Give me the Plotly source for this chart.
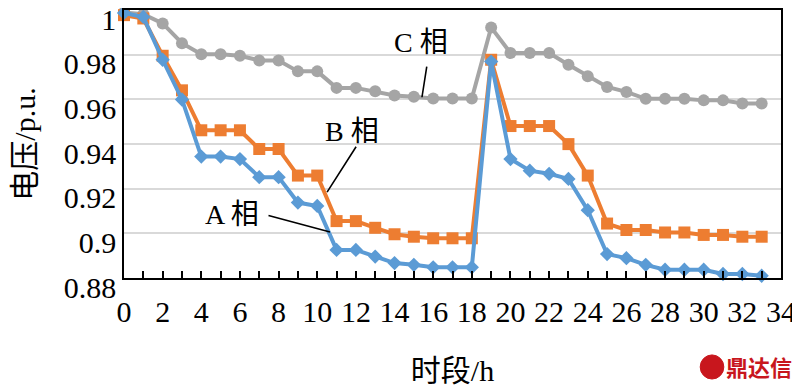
import plotly.graph_objects as go

hours = list(range(34))
phase_a = [0.9988, 0.9970, 0.9778, 0.9600, 0.9344, 0.9344, 0.9333, 0.9252, 0.9252, 0.9138,
           0.9123, 0.8926, 0.8926, 0.8896, 0.8867, 0.8859, 0.8848, 0.8848, 0.8848, 0.9770,
           0.9333, 0.9281, 0.9267, 0.9244, 0.9104, 0.8907, 0.8889, 0.8859, 0.8837, 0.8837,
           0.8837, 0.8818, 0.8818, 0.8810]
phase_b = [0.9978, 0.9963, 0.9796, 0.9641, 0.9462, 0.9462, 0.9462, 0.9378, 0.9378, 0.9259,
           0.9259, 0.9055, 0.9055, 0.9025, 0.8996, 0.8985, 0.8978, 0.8978, 0.8978, 0.9778,
           0.9481, 0.9481, 0.9481, 0.9400, 0.9259, 0.9044, 0.9015, 0.9015, 0.9004, 0.9004,
           0.8993, 0.8993, 0.8985, 0.8985]
phase_c = [0.9990, 0.9982, 0.9941, 0.9852, 0.9803, 0.9803, 0.9796, 0.9775, 0.9775, 0.9726,
           0.9726, 0.9652, 0.9652, 0.9637, 0.9618, 0.9612, 0.9604, 0.9604, 0.9604, 0.9923,
           0.9808, 0.9808, 0.9808, 0.9756, 0.9704, 0.9656, 0.9634, 0.9603, 0.9603, 0.9603,
           0.9596, 0.9596, 0.9582, 0.9582]

y_ticks = [0.88, 0.90, 0.92, 0.94, 0.96, 0.98, 1.00]
y_tick_text = ["0.88", "0.9", "0.92", "0.94", "0.96", "0.98", "1"]
x_ticks = list(range(0, 35, 2))

FONT = "Liberation Serif, Noto Sans CJK SC, serif"

fig = go.Figure()
fig.add_trace(go.Scatter(x=hours, y=phase_c, mode="lines+markers", name="C 相",
                         line=dict(color="#A5A5A5", width=4),
                         marker=dict(symbol="circle", size=12, color="#A5A5A5"),
                         cliponaxis=False))
fig.add_trace(go.Scatter(x=hours, y=phase_b, mode="lines+markers", name="B 相",
                         line=dict(color="#ED7D31", width=4),
                         marker=dict(symbol="square", size=12, color="#ED7D31"),
                         cliponaxis=False))
fig.add_trace(go.Scatter(x=hours, y=phase_a, mode="lines+markers", name="A 相",
                         line=dict(color="#5B9BD5", width=4),
                         marker=dict(symbol="diamond", size=11, color="#5B9BD5"),
                         cliponaxis=False))

# labels with leader lines (data coords)
labels = [
    ("C 相", 15.37, 0.9857, 15.68, 0.9754, 15.42, 0.9610),
    ("B 相", 11.80, 0.9458, 12.06, 0.9395, 10.51, 0.9185),
    ("A 相", 5.59, 0.9086, 7.40, 0.9082, 10.66, 0.9006),
]
for txt, tx, ty, x0, y0, x1, y1 in labels:
    fig.add_annotation(x=tx, y=ty, text=txt, showarrow=False,
                       font=dict(family=FONT, size=28, color="black"))
    fig.add_annotation(x=x1, y=y1, ax=x0, ay=y0, axref="x", ayref="y",
                       xref="x", yref="y", text="", showarrow=True,
                       arrowhead=0, arrowwidth=1.6, arrowcolor="black")

# watermark
fig.add_annotation(x=1.02, y=-0.33, xref="paper", yref="paper", xanchor="right",
                   yanchor="middle", text="<b>鼎达信</b>", showarrow=False,
                   font=dict(family="Noto Sans CJK SC", size=22, color="#C8161D"))
fig.add_shape(type="circle", xref="paper", yref="paper",
              x0=0.877, x1=0.913, y0=-0.377, y1=-0.287,
              fillcolor="#C8161D", line=dict(color="#C8161D", width=1))

# page body has an 8px default margin, so the figure is sized to fit the window
fig.update_layout(
    width=792, height=379,
    margin=dict(l=116, r=19, t=2, b=109, autoexpand=False),
    paper_bgcolor="white", plot_bgcolor="white",
    showlegend=False,
    font=dict(family=FONT, size=30, color="black"),
)
fig.update_xaxes(
    range=[0, 34], tickvals=x_ticks, ticktext=[str(v) for v in x_ticks],
    showgrid=False, zeroline=False, automargin=False, ticklabeloverflow="allow",
    ticklabelstandoff=6,
    showline=True, linecolor="black", linewidth=1.5, mirror=True,
    ticks="inside", ticklen=7, tickcolor="black", tickwidth=1.5,
    minor=dict(dtick=1, ticks="inside", ticklen=7, tickcolor="black", tickwidth=1.5, showgrid=False),
    tickfont=dict(family=FONT, size=30),
    title=dict(text="时段/h", font=dict(family=FONT, size=30), standoff=34),
)
fig.update_yaxes(
    range=[0.88, 1.0001], tickvals=y_ticks, ticktext=y_tick_text,
    showgrid=True, gridcolor="#D9D9D9", gridwidth=1.5, zeroline=False, automargin=False,
    ticklabeloverflow="allow", ticklabelshift=9,
    showline=True, linecolor="black", linewidth=1.5, mirror=True,
    ticks="", tickfont=dict(family=FONT, size=30),
    title=dict(text="电压/p.u.", font=dict(family=FONT, size=30), standoff=24),
)

fig.write_html("out.html")
